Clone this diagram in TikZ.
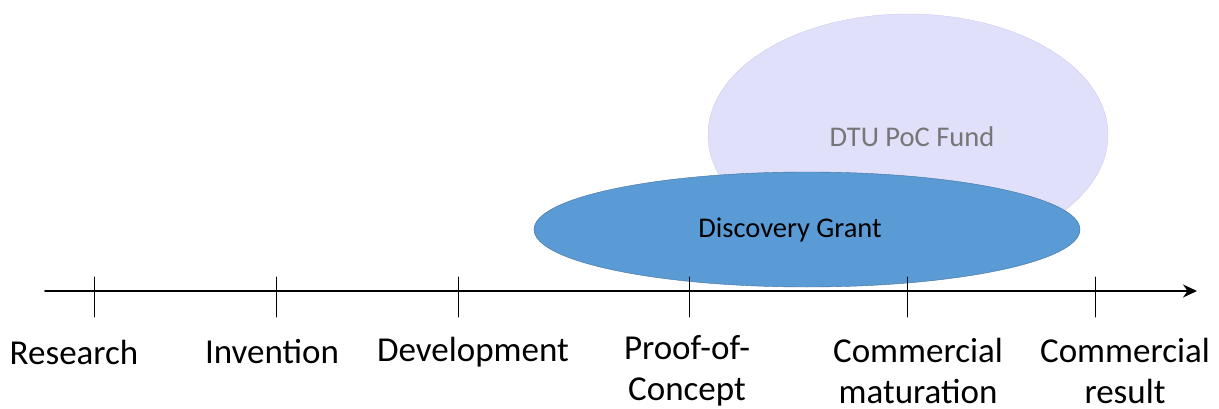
\documentclass[tikz,border=0pt]{standalone}
\usepackage{amsmath, tikz, tkz-euclide, xcolor}
\usepackage{fontspec}
\setmainfont{Carlito}
\usetikzlibrary{shapes.geometric, arrows.meta}

\definecolor{fundfill}{RGB}{224,224,250}
\definecolor{fundline}{RGB}{205,205,238}
\definecolor{fundtext}{RGB}{118,118,118}
\definecolor{grantfill}{RGB}{91,155,213}
\definecolor{grantline}{RGB}{65,113,156}

\tikzset{
    stage/.style={align=center, font=\fontsize{35}{41}\selectfont, inner sep=0pt},
    blob/.style={ellipse, inner sep=0pt, font=\fontsize{28.5}{33}\selectfont}
}

\begin{document}
\begin{tikzpicture}[x=1pt, y=1pt]
    \useasboundingbox (0,0) rectangle (1219,408);
    \node[blob, draw=fundline, fill=fundfill, minimum width=400pt, minimum height=242pt] (fund) at (908,273) {};
    \node[blob, text=fundtext] (fundlbl) at (912,271) {DTU PoC Fund};
    \node[blob, draw=grantline, fill=grantfill, minimum width=546pt, minimum height=115pt] (grant) at (807,178.5) {};
    \node[blob] (grantlbl) at (790,178) {Discovery Grant};
    \tkzDefPoints{45/117/S, 1197/117/E}
    \tkzDefPoints{94/131/a1, 94/91/a2, 276/131/b1, 276/91/b2, 458/131/c1, 458/91/c2}
    \tkzDefPoints{689/131/d1, 689/91/d2, 907/131/e1, 907/91/e2, 1095/131/f1, 1095/91/f2}
    \tkzDrawSegment[line width=1.8pt, -{Stealth[length=14pt, width=13pt]}](S,E)
    \tkzDrawSegments[line width=1pt](a1,a2 b1,b2 c1,c2 d1,d2 e1,e2 f1,f2)
    \node[stage] (research) at (74,56) {Research};
    \node[stage] (invention) at (272,56) {Invention};
    \node[stage] (development) at (473,56) {Development};
    \node[stage] (poc) at (687,37) {Proof-of-\\Concept};
    \node[stage] (maturation) at (918,37) {Commercial\\maturation};
    \node[stage] (result) at (1125,37) {Commercial\\result};
\end{tikzpicture}
\end{document}
